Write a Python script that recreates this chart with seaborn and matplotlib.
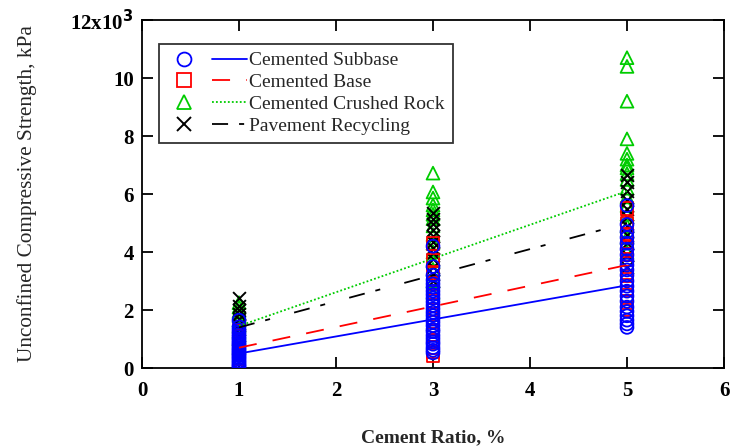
import matplotlib
matplotlib.use("Agg")
import matplotlib.pyplot as plt
import seaborn as sns
import pandas as pd
from matplotlib.lines import Line2D
from matplotlib.legend_handler import HandlerTuple
from matplotlib.ticker import FixedLocator, FuncFormatter

# ---------------- data (kPa) ----------------
series_names = ["Cemented Subbase", "Cemented Base", "Cemented Crushed Rock", "Pavement Recycling"]

subbase_1 = [30, 80, 120, 190, 240, 310, 360, 420, 470, 530, 580, 640, 690, 760, 820, 870, 940, 1010, 1080, 1150, 1230, 1320, 1420, 1650]
subbase_3 = [520, 610, 700, 820, 900, 1010, 1120, 1250, 1330, 1460, 1580, 1690, 1810, 1920, 2040, 2160, 2280, 2410, 2530, 2650, 2780, 2900, 3030, 3200, 3500, 4200]
subbase_5 = [1400, 1520, 1650, 1800, 1950, 2100, 2300, 2480, 2650, 2820, 3000, 3200, 3380, 3550, 3700, 3900, 4100, 4300, 4500, 4700, 4950, 5600]

base_1 = [10, 60, 140, 220, 330, 450, 560, 680, 800, 950, 1100, 1300]
base_3 = [420, 550, 700, 900, 1150, 1400, 1700, 2000, 2300, 2600, 2900, 3300, 3700, 4300]
base_5 = [2000, 2250, 2500, 2750, 3050, 3300, 3600, 3900, 4200, 4600, 5000, 5500]

rock_1 = [700, 1000, 1250, 1450, 1650, 1800, 1950, 2100, 2250]
rock_3 = [2600, 3000, 3400, 3700, 4000, 4300, 4600, 4900, 5150, 5300, 5450, 5620, 5860, 6070, 6720]
rock_5 = [4000, 4500, 4900, 5300, 5600, 5900, 6200, 6500, 6700, 6900, 7000, 7200, 7400, 7900, 9200, 10400, 10700]

recyc_1 = [1150, 1350, 1500, 1700, 1850, 2000, 2150, 2400]
recyc_3 = [3000, 3250, 3500, 3750, 3950, 4150, 4350, 4550, 4750, 4950, 5150, 5350]
recyc_5 = [3500, 3900, 4300, 4600, 4900, 5200, 5500, 5800, 6100, 6400, 6650]

# fitted trend lines: value at 1 % and at 5 % cement
fit_x = [1, 5]
fit_subbase = [500, 2850]
fit_base = [700, 3550]
fit_rock = [1450, 6100]
fit_recyc = [1400, 5000]

x_ticks = [0, 1, 2, 3, 4, 5, 6]
y_ticks = [0, 2000, 4000, 6000, 8000, 10000, 12000]

# ---------------- build frames ----------------
def frame(v1, v3, v5):
    return pd.DataFrame({"ratio": [1] * len(v1) + [3] * len(v3) + [5] * len(v5),
                         "ucs": list(v1) + list(v3) + list(v5)})

scatter_data = {
    "Cemented Subbase": frame(subbase_1, subbase_3, subbase_5),
    "Cemented Base": frame(base_1, base_3, base_5),
    "Cemented Crushed Rock": frame(rock_1, rock_3, rock_5),
    "Pavement Recycling": frame(recyc_1, recyc_3, recyc_5),
}
fit_data = {
    "Cemented Subbase": fit_subbase,
    "Cemented Base": fit_base,
    "Cemented Crushed Rock": fit_rock,
    "Pavement Recycling": fit_recyc,
}

style = {
    "Cemented Subbase": dict(color="#0000ff", marker="o", ls="-", z=5),
    "Cemented Base": dict(color="#ff0000", marker="s", ls=(0, (10, 9)), z=4),
    "Cemented Crushed Rock": dict(color="#00cc00", marker="^", ls=(0, (1, 1.2)), z=2),
    "Pavement Recycling": dict(color="#000000", marker="x", ls=(0, (8.9, 6.1, 2.8, 13.8)), z=3),
}

sns.set_style("ticks")
plt.rcParams["font.family"] = ["Liberation Serif", "DejaVu Serif"]

fig = plt.figure(figsize=(7.4, 4.48), dpi=100)
ax = fig.add_axes([142 / 740, 1 - 368 / 448, (724 - 142) / 740, (368 - 20) / 448])

for name in ["Cemented Crushed Rock", "Pavement Recycling", "Cemented Base", "Cemented Subbase"]:
    st = style[name]
    df = scatter_data[name]
    if st["marker"] == "x":
        sns.scatterplot(data=df, x="ratio", y="ucs", ax=ax, marker="x", s=85,
                        color=st["color"], linewidth=1.4, zorder=st["z"], legend=False)
    else:
        sns.scatterplot(data=df, x="ratio", y="ucs", ax=ax, marker=st["marker"], s=85,
                        facecolor="none", edgecolor=st["color"], linewidth=1.3,
                        zorder=st["z"], legend=False)

for name in series_names:
    st = style[name]
    sns.lineplot(x=fit_x, y=fit_data[name], ax=ax, color=st["color"], linestyle=st["ls"],
                 linewidth=1.3, zorder=6, legend=False)

ax.set_xlim(0, 6)
ax.set_ylim(0, 12000)
ax.xaxis.set_major_locator(FixedLocator(x_ticks))
ax.yaxis.set_major_locator(FixedLocator(y_ticks))

def yfmt(v, pos):
    if abs(v - 12000) < 1:
        return "12x10$^{\\mathbf{3}}$"
    return f"{int(round(v / 1000))}"

ax.yaxis.set_major_formatter(FuncFormatter(yfmt))
ax.xaxis.set_major_formatter(FuncFormatter(lambda v, p: f"{int(v)}"))

for sp in ax.spines.values():
    sp.set_visible(True)
    sp.set_linewidth(1.3)
    sp.set_color("black")

ax.tick_params(direction="in", length=8, width=1.3, top=True, right=True,
               labelsize=15, colors="black")
ax.tick_params(axis="x", pad=9)
ax.tick_params(axis="y", pad=6)
for lab in ax.get_xticklabels() + ax.get_yticklabels():
    lab.set_fontweight("bold")

ax.set_xlabel("Cement Ratio, %", fontsize=14, fontweight="bold", labelpad=21)
ax.set_ylabel("Unconfined Compressive Strength, kPa", fontsize=15.3, labelpad=24)

# legend: marker and line sample side by side
handles = []
for name in series_names:
    st = style[name]
    if st["marker"] == "x":
        mk = Line2D([], [], linestyle="none", marker="x", color=st["color"], markersize=10, markeredgewidth=1.4)
    else:
        mk = Line2D([], [], linestyle="none", marker=st["marker"], markerfacecolor="none",
                    markeredgecolor=st["color"], markersize=10, markeredgewidth=1.3)
    ln = Line2D([], [], color=st["color"], linestyle=st["ls"], linewidth=1.3)
    handles.append((mk, ln))

leg = ax.legend(handles, series_names, handler_map={tuple: HandlerTuple(ndivide=None, pad=0.5)},
                loc="upper left", bbox_to_anchor=((159 - 142) / 582, 1 - (44 - 20) / 348),
                handlelength=4.1, handletextpad=0.15, labelspacing=0.22, borderpad=0.4,
                fontsize=14, frameon=True, fancybox=False, edgecolor="black", borderaxespad=0)
leg.get_frame().set_linewidth(1.3)

fig.savefig("out.png", dpi=100)
